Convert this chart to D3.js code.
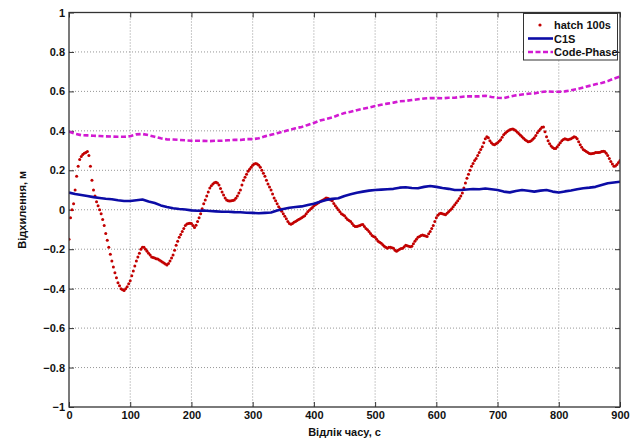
<!DOCTYPE html>
<html>
<head>
<meta charset="utf-8">
<script src="https://cdn.jsdelivr.net/npm/d3@7"></script>
<style>
  html, body { margin: 0; padding: 0; background: #fff; }
  svg { display: block; }
  text { font-family: "Liberation Sans", Arial, Helvetica, sans-serif; font-weight: bold; fill: #111; }
</style>
</head>
<body>
<svg id="chart" width="642" height="441"></svg>
<script>
// Deviation series over time, seconds vs metres
// hatch 100s: one sample every 2.5 s
const hatchTime = d3.range(0, 900.1, 2.5);
const hatchValues = [
  -0.15,-0.04,0.0,0.03,0.10,0.17,0.22,0.255,0.27,0.28,0.287,0.29,0.295,0.275,0.22,0.15,0.10,0.07,0.04,0.02,
  0.0,-0.02,-0.05,-0.08,-0.12,-0.155,-0.19,-0.225,-0.26,-0.29,-0.32,-0.345,-0.37,-0.385,-0.40,-0.405,-0.41,-0.40,-0.39,-0.375,
  -0.36,-0.335,-0.31,-0.285,-0.26,-0.24,-0.22,-0.20,-0.19,-0.19,-0.20,-0.21,-0.22,-0.23,-0.24,-0.242,-0.245,-0.248,-0.25,-0.255,
  -0.26,-0.265,-0.27,-0.275,-0.28,-0.272,-0.26,-0.245,-0.23,-0.205,-0.18,-0.16,-0.14,-0.125,-0.11,-0.095,-0.08,-0.072,-0.07,-0.068,
  -0.07,-0.08,-0.09,-0.078,-0.06,-0.04,-0.02,0.005,0.03,0.05,0.07,0.09,0.11,0.122,0.13,0.137,0.14,0.135,0.125,0.108,
  0.09,0.075,0.06,0.05,0.045,0.044,0.045,0.047,0.05,0.058,0.07,0.085,0.10,0.125,0.15,0.165,0.18,0.195,0.205,0.215,
  0.225,0.232,0.235,0.232,0.225,0.215,0.20,0.185,0.17,0.15,0.13,0.115,0.10,0.08,0.06,0.045,0.03,0.015,0.005,-0.008,
  -0.02,-0.033,-0.045,-0.06,-0.07,-0.074,-0.07,-0.064,-0.06,-0.055,-0.05,-0.045,-0.04,-0.035,-0.03,-0.02,-0.01,-0.002,0.005,0.012,
  0.02,0.025,0.03,0.035,0.04,0.045,0.05,0.055,0.06,0.058,0.055,0.05,0.045,0.032,0.02,0.01,0.0,-0.01,-0.02,-0.025,
  -0.03,-0.04,-0.05,-0.055,-0.06,-0.07,-0.08,-0.085,-0.085,-0.082,-0.08,-0.076,-0.075,-0.085,-0.095,-0.102,-0.11,-0.12,-0.13,-0.135,
  -0.14,-0.15,-0.16,-0.165,-0.17,-0.178,-0.185,-0.19,-0.195,-0.19,-0.19,-0.193,-0.195,-0.205,-0.21,-0.205,-0.20,-0.197,-0.195,-0.188,
  -0.18,-0.183,-0.185,-0.188,-0.185,-0.172,-0.16,-0.15,-0.14,-0.135,-0.13,-0.128,-0.13,-0.133,-0.135,-0.122,-0.11,-0.095,-0.08,-0.06,
  -0.04,-0.028,-0.02,-0.018,-0.02,-0.023,-0.025,-0.018,-0.01,-0.002,0.005,0.015,0.025,0.035,0.045,0.057,0.07,0.085,0.11,0.135,
  0.16,0.18,0.20,0.22,0.235,0.25,0.26,0.275,0.29,0.305,0.32,0.34,0.36,0.37,0.365,0.35,0.34,0.332,0.33,0.334,
  0.34,0.347,0.355,0.368,0.38,0.388,0.395,0.40,0.405,0.408,0.41,0.405,0.40,0.393,0.385,0.378,0.37,0.362,0.355,0.35,
  0.345,0.346,0.35,0.357,0.365,0.377,0.39,0.40,0.41,0.418,0.42,0.395,0.37,0.35,0.335,0.323,0.315,0.31,0.31,0.32,
  0.33,0.34,0.35,0.356,0.36,0.357,0.355,0.357,0.36,0.365,0.37,0.367,0.36,0.345,0.33,0.317,0.305,0.30,0.295,0.29,
  0.285,0.284,0.285,0.287,0.29,0.29,0.29,0.292,0.295,0.297,0.295,0.287,0.275,0.26,0.245,0.232,0.22,0.222,0.23,0.24,
  0.25
];

const c1sTime = d3.range(0, 901, 10);
const c1sValues = [
  0.087,0.080,0.075,0.070,0.064,0.060,0.056,0.053,0.048,0.044,
  0.044,0.048,0.052,0.042,0.034,0.022,0.014,0.008,0.004,0.001,
  -0.003,-0.005,-0.004,-0.006,-0.008,-0.010,-0.010,-0.012,-0.013,-0.015,
  -0.016,-0.018,-0.016,-0.014,-0.004,0.004,0.010,0.014,0.017,0.024,
  0.030,0.040,0.050,0.055,0.058,0.070,0.078,0.086,0.092,0.097,
  0.100,0.102,0.104,0.106,0.112,0.114,0.110,0.109,0.116,0.120,
  0.116,0.110,0.106,0.100,0.100,0.103,0.105,0.104,0.108,0.104,
  0.100,0.092,0.088,0.095,0.100,0.096,0.092,0.097,0.100,0.092,
  0.087,0.093,0.098,0.104,0.109,0.112,0.116,0.125,0.134,0.138,
  0.142
];

const codePhaseTime = d3.range(0, 901, 10);
const codePhaseValues = [
  0.396,0.385,0.378,0.377,0.375,0.374,0.372,0.371,0.370,0.370,
  0.373,0.382,0.384,0.378,0.370,0.362,0.357,0.356,0.354,0.352,
  0.350,0.350,0.349,0.348,0.350,0.350,0.352,0.354,0.354,0.358,
  0.358,0.362,0.372,0.380,0.388,0.396,0.405,0.413,0.420,0.430,
  0.440,0.452,0.460,0.468,0.480,0.490,0.497,0.505,0.512,0.518,
  0.526,0.532,0.538,0.543,0.550,0.552,0.556,0.560,0.564,0.566,
  0.566,0.565,0.568,0.568,0.572,0.575,0.575,0.575,0.578,0.572,
  0.568,0.566,0.574,0.580,0.584,0.588,0.590,0.596,0.600,0.598,
  0.598,0.600,0.606,0.612,0.620,0.628,0.636,0.643,0.652,0.665,
  0.675
];

const xTicks = [0, 100, 200, 300, 400, 500, 600, 700, 800, 900];
const yTicks = [-1, -0.8, -0.6, -0.4, -0.2, 0, 0.2, 0.4, 0.6, 0.8, 1];
const seriesNames = ["hatch 100s", "C1S", "Code-Phase"];
const xTitle = "Відлік часу, с";
const yTitle = "Відхилення, м";

const colors = { hatch: "#c20000", c1s: "#0c0ca6", code: "#d21ad2" };

const svg = d3.select("#chart");
const pLeft = 69, pRight = 620, pTop = 12.5, pBottom = 407;

const x = d3.scaleLinear().domain([0, 900]).range([pLeft, pRight]);
const y = d3.scaleLinear().domain([-1, 1]).range([pBottom, pTop]);

// dotted grid
const grid = svg.append("g");
grid.selectAll("line.gx").data(xTicks.slice(1, -1)).join("line")
  .attr("x1", d => x(d)).attr("x2", d => x(d)).attr("y1", pTop).attr("y2", pBottom)
  .attr("stroke", "#8a8a8a").attr("stroke-width", 0.9).attr("stroke-dasharray", "1,2");
grid.selectAll("line.gy").data(yTicks.slice(1, -1)).join("line")
  .attr("y1", d => y(d)).attr("y2", d => y(d)).attr("x1", pLeft).attr("x2", pRight)
  .attr("stroke", "#8a8a8a").attr("stroke-width", 0.9).attr("stroke-dasharray", "1,2");

// axes: ticks point inward on all four sides
const fmt = d => (d === 0 ? "0" : d3.format("")(d));
const axB = svg.append("g").attr("transform", `translate(0,${pBottom})`)
  .call(d3.axisBottom(x).tickValues(xTicks).tickSizeInner(-5).tickSizeOuter(0).tickPadding(4).tickFormat(fmt));
const axL = svg.append("g").attr("transform", `translate(${pLeft},0)`)
  .call(d3.axisLeft(y).tickValues(yTicks).tickSizeInner(-5).tickSizeOuter(0).tickPadding(4).tickFormat(fmt));
const axT = svg.append("g").attr("transform", `translate(0,${pTop})`)
  .call(d3.axisTop(x).tickValues(xTicks).tickSizeInner(-5).tickSizeOuter(0).tickFormat(""));
const axR = svg.append("g").attr("transform", `translate(${pRight},0)`)
  .call(d3.axisRight(y).tickValues(yTicks).tickSizeInner(-5).tickSizeOuter(0).tickFormat(""));
[axB, axL, axT, axR].forEach(g => {
  g.select(".domain").remove();
  g.selectAll(".tick line").attr("stroke", "#333").attr("stroke-width", 1);
  g.selectAll(".tick text").attr("font-size", 11).attr("font-weight", "bold")
    .attr("font-family", "Liberation Sans, Arial, sans-serif").attr("fill", "#111");
});

// series
svg.append("clipPath").attr("id", "plotclip").append("rect")
  .attr("x", pLeft).attr("y", pTop).attr("width", pRight - pLeft).attr("height", pBottom - pTop);
const plot = svg.append("g").attr("clip-path", "url(#plotclip)");

plot.selectAll("circle.h").data(d3.zip(hatchTime, hatchValues)).join("circle")
  .attr("cx", d => x(d[0])).attr("cy", d => y(d[1])).attr("r", 1.5)
  .attr("fill", colors.hatch);

const line = d3.line().x(d => x(d[0])).y(d => y(d[1]));
plot.append("path").datum(d3.zip(c1sTime, c1sValues))
  .attr("d", line).attr("fill", "none").attr("stroke", colors.c1s)
  .attr("stroke-width", 2.6).attr("stroke-linejoin", "round");
plot.append("path").datum(d3.zip(codePhaseTime, codePhaseValues))
  .attr("d", line).attr("fill", "none").attr("stroke", colors.code)
  .attr("stroke-width", 2.6).attr("stroke-dasharray", "5,2.5");

// box
svg.append("rect").attr("x", pLeft).attr("y", pTop).attr("width", pRight - pLeft).attr("height", pBottom - pTop)
  .attr("fill", "none").attr("stroke", "#333").attr("stroke-width", 1.3);

// axis titles
svg.append("text").attr("x", (pLeft + pRight) / 2).attr("y", 436).attr("text-anchor", "middle")
  .attr("font-size", 11).text(xTitle);
svg.append("text").attr("transform", `translate(26,${(pTop + pBottom) / 2}) rotate(-90)`)
  .attr("text-anchor", "middle").attr("font-size", 11).text(yTitle);

// legend
const lg = svg.append("g");
lg.append("rect").attr("x", 523.5).attr("y", 13.5).attr("width", 94).attr("height", 46.5)
  .attr("fill", "#fff").attr("stroke", "#333").attr("stroke-width", 1);
const rows = [25, 38.5, 52];
lg.append("circle").attr("cx", 540).attr("cy", rows[0]).attr("r", 1.6).attr("fill", colors.hatch);
lg.append("line").attr("x1", 528).attr("x2", 553).attr("y1", rows[1]).attr("y2", rows[1])
  .attr("stroke", colors.c1s).attr("stroke-width", 2.6);
lg.append("line").attr("x1", 528).attr("x2", 553).attr("y1", rows[2]).attr("y2", rows[2])
  .attr("stroke", colors.code).attr("stroke-width", 2.6).attr("stroke-dasharray", "5,2.5");
lg.selectAll("text.lbl").data(seriesNames).join("text")
  .attr("x", 554).attr("y", (d, i) => rows[i] + 4).attr("font-size", 11).text(d => d);
</script>
</body>
</html>
